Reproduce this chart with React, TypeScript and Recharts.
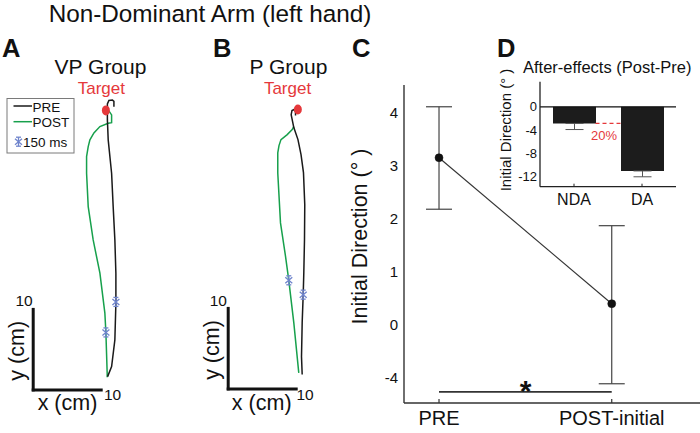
import React from 'react';
import {
  ComposedChart,
  LineChart,
  BarChart,
  Line,
  Bar,
  Scatter,
  XAxis,
  YAxis,
  ErrorBar,
  ReferenceLine,
  ReferenceDot,
} from 'recharts';

const FONT = '"Liberation Sans", Arial, Helvetica, sans-serif';

// ---------- Panels A & B: hand trajectories (cm, origin at scale-bar corner) ----------
const vpPre: [number, number][] = [
  [10.94, 1.65], [11.53, 2.89], [12.01, 6.21], [12.16, 10.77], [12.16, 14.5],
  [12.01, 18.63], [11.76, 22.77], [11.53, 26.92], [11.03, 31.06], [10.91, 33.54],
  [10.91, 35.53], [11.13, 35.96], [11.65, 36.02], [11.87, 35.84], [11.87, 35.16],
];
const vpPost: [number, number][] = [
  [10.88, 1.58], [10.88, 2.07], [10.69, 7.12], [10.54, 9.53], [9.81, 14.5],
  [8.82, 18.63], [8.09, 22.77], [7.85, 26.92], [7.85, 28.98], [8.09, 30.22],
  [8.34, 31.06], [8.93, 31.93], [9.81, 32.71], [11.03, 33.13], [11.53, 33.2],
  [11.53, 34.16], [11.13, 34.66],
];
const vpStars: [number, number][] = [[12.16, 10.93], [10.69, 7.14]];
const vpTarget: [number, number] = [10.69, 34.72];

const pPre: [number, number][] = [
  [10.88, 1.78], [10.78, 4.01], [10.88, 8.24], [11.03, 11.71], [11.12, 14.45],
  [11.22, 18.55], [11.26, 22.89], [11.07, 26.87], [10.71, 29.11], [10.26, 30.97],
  [9.65, 32.46], [9.26, 34.07], [9.38, 34.57], [9.68, 34.7], [9.9, 34.45], [9.9, 33.95],
];
const pPost: [number, number][] = [
  [10.38, 1.99], [9.65, 8.2], [8.91, 13.49], [8.43, 16.47], [7.69, 20.62],
  [7.29, 26.83], [7.29, 29.32], [7.47, 30.22], [7.76, 30.97], [8.68, 31.59],
  [9.41, 32.21], [9.65, 32.62],
];
const pStars: [number, number][] = [[8.91, 13.49], [11.03, 11.71]];
const pTarget: [number, number] = [10.24, 34.7];

const scaleBarCm = 10;

// ---------- Panel C: initial direction ----------
const phases = ['PRE', 'POST-initial'];
const dirMean = [3.15, 0.4];
const dirLower = [2.18, -4.43];
const dirUpper = [4.11, 1.87];
const dirTicks = [4, 3, 2, 1, 0, -4];
const sigBarLevel = -5.04;
const breakFactor = 4; // axis is compressed below zero

// ---------- Panel D: after-effects ----------
const groups = ['NDA', 'DA'];
const afterEffect = [-2.85, -11.0];
const afterEffectLow = [-3.9, -12.0];
const afterTicks = [0, -4, -8, -12];

const BLACK = '#1a1a1a';
const GREEN = '#17a04c';
const BLUE = '#6f84cc';
const RED = '#e5383b';

const D_PLOT_W = 136;
const D_BAR = 43;
const D_DOMAIN: [number, number] = [-0.5, 1.5];
const halfBarUnits = (D_BAR / 2) / (D_PLOT_W / (D_DOMAIN[1] - D_DOMAIN[0]));

const toAxis = (v: number) => (v >= 0 ? v : v / breakFactor);
const fromAxis = (v: number) => (v >= 0 ? v : v * breakFactor);

const pts = (a: [number, number][]) => a.map(([x, y]) => ({ x, y }));

const Asterisk = (props: any) => {
  const { cx, cy } = props;
  if (cx == null || cy == null) return null;
  return (
    <g stroke={BLUE} strokeWidth={1.3}>
      <line x1={cx} y1={cy - 4.5} x2={cx} y2={cy + 4.5} />
      <line x1={cx - 3.5} y1={cy - 3} x2={cx + 3.5} y2={cy + 3} />
      <line x1={cx - 3.5} y1={cy + 3} x2={cx + 3.5} y2={cy - 3} />
      <line x1={cx - 2.5} y1={cy - 4.5} x2={cx + 2.5} y2={cy - 4.5} />
      <line x1={cx - 2.5} y1={cy + 4.5} x2={cx + 2.5} y2={cy + 4.5} />
    </g>
  );
};

const TargetDot = (props: any) => {
  const { cx, cy } = props;
  return <ellipse cx={cx} cy={cy} rx={4} ry={5} fill={RED} />;
};

type TrajProps = {
  left: number;
  top: number;
  pre: [number, number][];
  post: [number, number][];
  stars: [number, number][];
  target: [number, number];
};

const TrajPanel = ({ left, top, pre, post, stars, target }: TrajProps) => (
  <div style={{ position: 'absolute', left, top }}>
    <ComposedChart width={136} height={322} margin={{ top: 0, right: 0, bottom: 0, left: 0 }}>
      <XAxis type="number" dataKey="x" domain={[-4, 16]} hide allowDataOverflow />
      <YAxis type="number" dataKey="y" domain={[-2, 38]} hide allowDataOverflow />
      <ReferenceLine
        segment={[{ x: 0, y: 0 }, { x: scaleBarCm, y: 0 }]}
        stroke="#111"
        strokeWidth={3}
        strokeLinecap="square"
      />
      <ReferenceLine
        segment={[{ x: 0, y: 0 }, { x: 0, y: scaleBarCm }]}
        stroke="#111"
        strokeWidth={3}
        strokeLinecap="square"
      />
      <ReferenceDot x={target[0]} y={target[1]} r={4} shape={TargetDot} />
      <Line data={pts(post)} dataKey="y" stroke={GREEN} strokeWidth={1.5} dot={false} type="linear" isAnimationActive={false} />
      <Line data={pts(pre)} dataKey="y" stroke={BLACK} strokeWidth={1.5} dot={false} type="linear" isAnimationActive={false} />
      <Scatter data={pts(stars)} dataKey="y" shape={Asterisk} isAnimationActive={false} />
    </ComposedChart>
  </div>
);

const cData = phases.map((p, i) => {
  const m = toAxis(dirMean[i]);
  return {
    idx: i,
    name: p,
    y: m,
    err: [m - toAxis(dirLower[i]), toAxis(dirUpper[i]) - m],
  };
});

const dData = groups.map((g, i) => ({
  idx: i,
  name: g,
  v: afterEffect[i],
  err: [afterEffect[i] - afterEffectLow[i], 0],
}));

export default function App() {
  return (
    <div
      style={{
        position: 'absolute',
        left: 0,
        top: 0,
        width: 700,
        height: 433,
        background: '#fff',
        overflow: 'hidden',
        fontFamily: FONT,
      }}
    >
      <TrajPanel left={6.1} top={84.1} pre={vpPre} post={vpPost} stars={vpStars} target={vpTarget} />
      <TrajPanel left={200.5} top={83.4} pre={pPre} post={pPost} stars={pStars} target={pTarget} />

      {/* Panel C */}
      <div style={{ position: 'absolute', left: 340, top: 70 }}>
        <LineChart width={360} height={363} data={cData} margin={{ top: 15, right: 0, bottom: 0, left: 0 }}>
          <XAxis
            type="number"
            dataKey="idx"
            domain={[-0.2027, 1.511]}
            ticks={[0, 1]}
            interval={0}
            allowDataOverflow
            tickFormatter={(i: number) => phases[i] ?? ''}
            height={30}
            tickSize={-4}
            tickMargin={12}
            axisLine={{ stroke: '#333', strokeWidth: 1.4 }}
            tickLine={{ stroke: '#333', strokeWidth: 1.2 }}
            tick={{ fontSize: 20, fill: '#111', fontFamily: FONT }}
          />
          <YAxis
            type="number"
            domain={[toAxis(-5.88), 4.52]}
            ticks={dirTicks.map(toAxis)}
            interval={0}
            allowDataOverflow
            width={64}
            tickFormatter={(v: number) => String(Math.round(fromAxis(v)))}
            tickSize={4}
            tickMargin={2}
            tickLine={false}
            axisLine={{ stroke: '#333', strokeWidth: 1.4 }}
            tick={{ fontSize: 15, fill: '#111', fontFamily: FONT }}
          />
          <ReferenceLine
            segment={[{ x: 0, y: toAxis(sigBarLevel) }, { x: 1, y: toAxis(sigBarLevel) }]}
            stroke="#333"
            strokeWidth={1.6}
          />
          <Line
            dataKey="y"
            stroke="#333"
            strokeWidth={1.1}
            type="linear"
            dot={{ r: 4, fill: '#111', stroke: '#111', strokeWidth: 0.5 }}
            isAnimationActive={false}
          >
            <ErrorBar dataKey="err" direction="y" width={13} stroke="#444" strokeWidth={1.2} />
          </Line>
        </LineChart>
      </div>

      {/* Panel D */}
      <div style={{ position: 'absolute', left: 500, top: 75 }}>
        <BarChart width={180} height={135} data={dData} margin={{ top: 6.7, right: 4, bottom: 0, left: 0 }}>
          <XAxis
            type="number"
            dataKey="idx"
            domain={D_DOMAIN}
            ticks={[0, 1]}
            interval={0}
            allowDataOverflow
            tickFormatter={(i: number) => groups[i] ?? ''}
            height={23.3}
            tickSize={-3}
            tickMargin={10}
            axisLine={{ stroke: '#222', strokeWidth: 1.3 }}
            tickLine={{ stroke: '#222', strokeWidth: 1 }}
            tick={{ fontSize: 16, fill: '#111', fontFamily: FONT }}
          />
          <YAxis
            type="number"
            domain={[-13.7, 4.3]}
            ticks={afterTicks}
            interval={0}
            allowDataOverflow
            width={40}
            tickSize={3}
            tickMargin={0}
            tickLine={false}
            axisLine={{ stroke: '#222', strokeWidth: 1.3 }}
            tick={{ fontSize: 13, fill: '#111', fontFamily: FONT }}
          />
          <Bar dataKey="v" fill="#1c1c1c" barSize={D_BAR} isAnimationActive={false}>
            <ErrorBar dataKey="err" direction="y" width={9} stroke="#555" strokeWidth={1} />
          </Bar>
          <ReferenceLine
            segment={[
              { x: 0 + halfBarUnits, y: afterEffect[0] },
              { x: 1 - halfBarUnits, y: afterEffect[0] },
            ]}
            stroke={RED}
            strokeWidth={1.2}
            strokeDasharray="4 3"
          />
          <ReferenceLine y={0} stroke="#111" strokeWidth={1.3} />
        </BarChart>
      </div>

      {/* Text and legend overlay */}
      <svg
        width={700}
        height={433}
        style={{ position: 'absolute', left: 0, top: 0, pointerEvents: 'none' }}
        fontFamily={FONT}
      >
        <text x={210} y={22} fontSize={24.3} textAnchor="middle" fill="#111">
          Non-Dominant Arm (left hand)
        </text>
        <text x={2} y={57} fontSize={25.5} fontWeight="bold" fill="#111">A</text>
        <text x={213} y={57} fontSize={25.5} fontWeight="bold" fill="#111">B</text>
        <text x={352} y={57} fontSize={25.5} fontWeight="bold" fill="#111">C</text>
        <text x={497} y={57} fontSize={25.5} fontWeight="bold" fill="#111">D</text>

        <text x={100.5} y={73.5} fontSize={21} textAnchor="middle" fill="#111">VP Group</text>
        <text x={101.3} y={94} fontSize={17} textAnchor="middle" fill={RED}>Target</text>
        <text x={288.5} y={73.5} fontSize={21} textAnchor="middle" fill="#111">P Group</text>
        <text x={287.5} y={94} fontSize={17} textAnchor="middle" fill={RED}>Target</text>

        {/* legend */}
        <rect x={7} y={98.5} width={67} height={54.5} fill="#fff" stroke="#7a7a7a" strokeWidth={1} />
        <line x1={13.5} y1={106} x2={32} y2={106} stroke={BLACK} strokeWidth={1.5} />
        <text x={32.5} y={111.7} fontSize={13.5} fill="#111">PRE</text>
        <line x1={13.5} y1={121.7} x2={32} y2={121.7} stroke={GREEN} strokeWidth={1.5} />
        <text x={32.5} y={126.7} fontSize={13.5} fill="#111">POST</text>
        <Asterisk cx={18.5} cy={141.7} />
        <text x={23} y={146.7} fontSize={13.5} fill="#111">150 ms</text>

        {/* scale bar labels A */}
        <text x={24} y={306} fontSize={15.5} textAnchor="middle" fill="#111">10</text>
        <text x={112.5} y={400} fontSize={15.5} textAnchor="middle" fill="#111">10</text>
        <text x={67.5} y={410} fontSize={21.5} textAnchor="middle" fill="#111">x (cm)</text>
        <text x={24.3} y={350.8} fontSize={21.5} textAnchor="middle" fill="#111" transform="rotate(-90 24.3 350.8)">
          y (cm)
        </text>
        {/* scale bar labels B */}
        <text x={218.3} y={306} fontSize={15.5} textAnchor="middle" fill="#111">10</text>
        <text x={305} y={400} fontSize={15.5} textAnchor="middle" fill="#111">10</text>
        <text x={261.7} y={410} fontSize={21.5} textAnchor="middle" fill="#111">x (cm)</text>
        <text x={218.7} y={350} fontSize={21.5} textAnchor="middle" fill="#111" transform="rotate(-90 218.7 350)">
          y (cm)
        </text>

        {/* panel C labels */}
        <text x={366.7} y={236.5} fontSize={21.5} textAnchor="middle" fill="#111" transform="rotate(-90 366.7 236.5)">
          Initial Direction (° )
        </text>
        <text x={525.5} y={400.5} fontSize={30} fontWeight="bold" textAnchor="middle" fill="#111">*</text>

        {/* panel D labels */}
        <text x={523} y={72.7} fontSize={16.5} fill="#111">After-effects (Post-Pre)</text>
        <text x={511} y={130} fontSize={15} textAnchor="middle" fill="#111" transform="rotate(-90 511 130)">
          Initial Direction (° )
        </text>
        <text x={604} y={140} fontSize={13} textAnchor="middle" fill={RED}>20%</text>
      </svg>
    </div>
  );
}
